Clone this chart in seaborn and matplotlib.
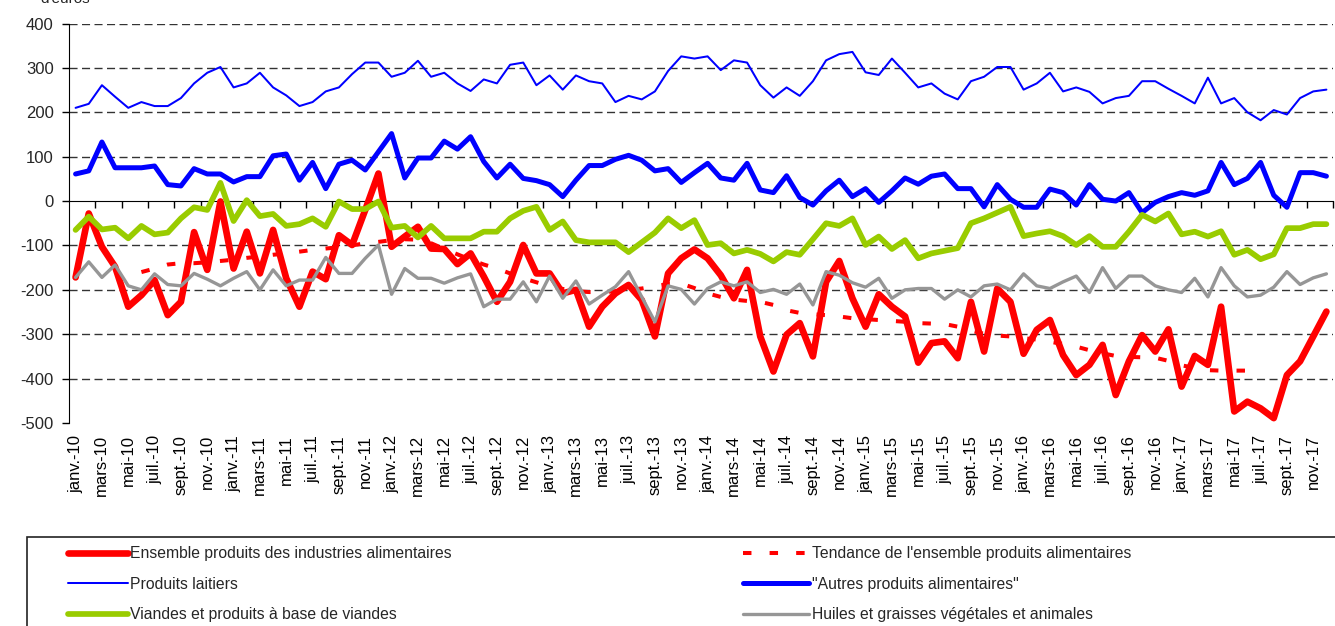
import seaborn as sns
import matplotlib.pyplot as plt
import matplotlib.patches as mpatches
from matplotlib.lines import Line2D
import numpy as np
import pandas as pd

# soldes commerciaux mensuels, janv.-10 a dec.-17 (en millions d'euros)
annees = ['10', '11', '12', '13', '14', '15', '16', '17']
mois_etiquettes = ['janv.', 'mars', 'mai', 'juil.', 'sept.', 'nov.']

ensemble = [-172, -28, -103, -148, -238, -212, -178, -257, -227, -70, -155, -1,
            -152, -69, -163, -65, -174, -238, -159, -176, -77, -99, -20, 62,
            -103, -80, -58, -107, -108, -142, -118, -170, -227, -182, -99, -163,
            -163, -208, -200, -283, -238, -208, -189, -223, -305, -163, -129, -109,
            -129, -167, -219, -155, -305, -384, -301, -275, -350, -182, -135, -219,
            -283, -210, -238, -260, -364, -320, -316, -354, -227, -339, -197, -227,
            -344, -290, -268, -347, -392, -369, -324, -437, -361, -302, -339, -289,
            -418, -349, -369, -238, -474, -452, -467, -489, -392, -361, -305, -249]

tendance = [np.nan] * 5 + [
    -160, -152, -143, -140, -140, -138, -135,
    -132, -128, -125, -121, -118, -114, -110, -107, -104, -100, -95, -92,
    -88, -86, -87, -95, -108, -120, -132, -143, -152, -163, -174, -183,
    -192, -198, -203, -205, -205, -203, -200, -197, -192, -187, -186, -196,
    -208, -216, -222, -225, -227, -234, -246, -252, -255, -257, -260, -264,
    -266, -268, -270, -272, -275, -276, -277, -283, -292, -299, -303, -305,
    -309, -312, -317, -322, -328, -336, -343, -349, -351, -352, -353, -360,
    -370, -376, -381, -382, -382, -382, -382] + [np.nan] * 5

laitiers = [210, 219, 261, 235, 210, 223, 214, 214, 232, 265, 289, 302,
            256, 265, 289, 256, 238, 214, 223, 247, 256, 286, 312, 312,
            280, 289, 316, 280, 289, 265, 248, 274, 265, 307, 312, 261,
            283, 251, 283, 270, 265, 223, 237, 229, 247, 293, 326, 321,
            326, 295, 317, 312, 261, 233, 256, 237, 270, 317, 331, 336,
            290, 284, 321, 289, 256, 265, 242, 229, 270, 280, 302, 302,
            251, 265, 289, 247, 256, 246, 220, 232, 237, 270, 270, 253,
            237, 220, 278, 220, 232, 200, 182, 205, 195, 232, 247, 251]

autres = [61, 68, 133, 75, 75, 75, 79, 37, 34, 73, 61, 61,
          43, 55, 55, 102, 106, 47, 87, 28, 83, 92, 70, 111,
          152, 52, 97, 97, 135, 117, 145, 89, 52, 83, 51, 46,
          37, 10, 47, 80, 80, 94, 103, 92, 68, 73, 42, 64,
          85, 52, 47, 85, 25, 19, 57, 8, -9, 23, 47, 10,
          28, -3, 23, 52, 38, 56, 61, 28, 28, -13, 37, 4,
          -14, -14, 27, 19, -9, 37, 4, 0, 19, -26, -3, 10,
          19, 13, 23, 87, 37, 51, 87, 13, -14, 64, 64, 56]

viandes = [-65, -35, -64, -60, -84, -56, -75, -71, -39, -14, -20, 41,
           -45, 2, -34, -29, -56, -52, -39, -58, -1, -18, -18, -1,
           -60, -56, -82, -56, -84, -84, -84, -69, -69, -39, -22, -13,
           -65, -46, -88, -93, -93, -93, -115, -93, -71, -39, -61, -43,
           -99, -95, -118, -110, -119, -136, -115, -121, -86, -50, -56, -39,
           -99, -80, -108, -88, -129, -118, -112, -106, -50, -39, -26, -13,
           -79, -73, -68, -79, -99, -79, -103, -103, -69, -31, -46, -28,
           -75, -69, -80, -68, -121, -110, -131, -120, -61, -61, -52, -52]

huiles = [-172, -137, -172, -144, -191, -200, -164, -188, -191, -163, -176, -191,
          -174, -159, -200, -155, -191, -178, -178, -127, -163, -163, -129, -99,
          -210, -152, -174, -174, -185, -173, -164, -238, -221, -221, -182, -227,
          -169, -219, -180, -232, -212, -193, -159, -216, -272, -191, -199, -232,
          -197, -182, -191, -182, -206, -199, -210, -187, -234, -159, -167, -184,
          -194, -174, -219, -200, -197, -197, -221, -200, -216, -191, -187, -200,
          -164, -191, -197, -182, -169, -206, -150, -197, -169, -169, -191, -200,
          -206, -174, -216, -150, -191, -216, -212, -194, -159, -188, -173, -164]

noms = ['Ensemble produits des industries alimentaires',
        "Tendance de l'ensemble produits alimentaires",
        'Produits laitiers',
        '"Autres produits alimentaires"',
        'Viandes et produits à base de viandes',
        'Huiles et graisses végétales et animales']

etiquettes_x = [m + '-' + a for a in annees for m in mois_etiquettes]

sns.set_style('white')
plt.rcParams['font.family'] = ['Liberation Sans', 'DejaVu Sans']

fig = plt.figure(figsize=(13.35, 6.26), dpi=100)
ax = fig.add_axes([69 / 1335, 1 - 423 / 626, 1264 / 1335, 399.5 / 626])

mois = np.arange(len(ensemble))
series = [ensemble, tendance, laitiers, autres, viandes, huiles]
couleurs = ['#FF0000', '#FF0000', '#0000FF', '#0000FF', '#99CC00', '#969696']
epaisseurs = [4.8, 2.9, 1.45, 3.6, 4.1, 2.4]
styles = ['-', (0, (2.1, 4.5)), '-', '-', '-', '-']

for k, (vals, coul, ep, st) in enumerate(zip(series, couleurs, epaisseurs, styles)):
    df = pd.DataFrame({'mois': mois, 'valeur': vals}).dropna()
    sns.lineplot(data=df, x='mois', y='valeur', ax=ax, color=coul, linewidth=ep,
                 linestyle=st, zorder=3 + k, legend=False,
                 solid_joinstyle='round', solid_capstyle='round', dash_capstyle='butt')

# grille pointillée
for v in [400, 300, 200, 100, -100, -200, -300, -400]:
    ax.axhline(v, color='#333333', lw=1, linestyle=(0, (5.8, 3.2)), zorder=1)

ax.set_xlim(-0.5, 95.5)
ax.set_ylim(-500, 400)
ax.set_xlabel('')
ax.set_ylabel('')
ax.set_yticks(range(-500, 401, 100))
ax.set_yticklabels([str(v) for v in range(-500, 401, 100)])
ax.set_xticks(np.arange(1.5, 96, 2))
ax.set_xticklabels([])
ax.tick_params(axis='y', direction='out', length=5, width=1, color='black',
               labelsize=12, pad=6, left=True)
ax.tick_params(axis='x', direction='out', length=5, width=1, color='black', bottom=True)

ax.spines['top'].set_visible(False)
ax.spines['right'].set_visible(False)
ax.spines['left'].set_color('black')
ax.spines['bottom'].set_color('black')
ax.spines['bottom'].set_position(('data', 0))
ax.spines['bottom'].set_zorder(2)

for i, lab in zip(range(0, 96, 2), etiquettes_x):
    ax.text(i, -527, lab, rotation=90, ha='center', va='top', fontsize=12,
            color='black')

fig.text(40 / 1335, 1 - 3 / 626, "d'euros", fontsize=11, va='baseline', ha='left')

# cadre de la légende
cadre = mpatches.Rectangle((27 / 1335, -0.1), 1.1, (626 - 537) / 626 + 0.1,
                           transform=fig.transFigure, fill=False,
                           edgecolor='#222222', lw=1.2)
fig.add_artist(cadre)

poignees = [Line2D([], [], color=c, lw=e, linestyle=s, dash_capstyle='butt')
            for c, e, s in zip(couleurs, epaisseurs, styles)]

leg1 = fig.legend([poignees[0], poignees[2], poignees[4]],
                  [noms[0], noms[2], noms[4]],
                  loc='upper left', bbox_to_anchor=(68 / 1335, 1 - 546 / 626),
                  frameon=False, fontsize=11.3, handlelength=3.8,
                  handletextpad=0.15, labelspacing=1.0, borderpad=0,
                  borderaxespad=0)
leg2 = fig.legend([poignees[1], poignees[3], poignees[5]],
                  [noms[1], noms[3], noms[5]],
                  loc='upper left', bbox_to_anchor=(743 / 1335, 1 - 546 / 626),
                  frameon=False, fontsize=11.3, handlelength=4.2,
                  handletextpad=0.2, labelspacing=1.0, borderpad=0,
                  borderaxespad=0)

fig.savefig('out.png', dpi=100)
